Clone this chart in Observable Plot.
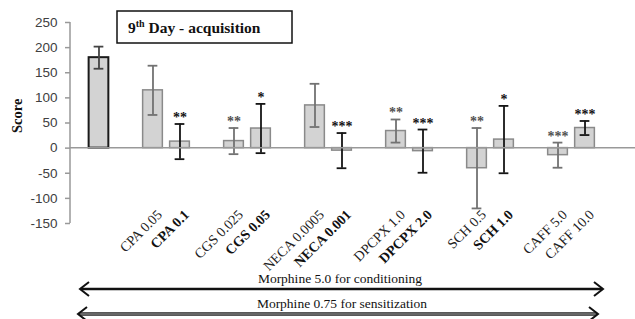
<!DOCTYPE html>
<html>
<head>
<meta charset="utf-8">
<script src="https://cdn.jsdelivr.net/npm/d3@7"></script>
<script src="https://cdn.jsdelivr.net/npm/@observablehq/plot@0.6"></script>
<style>
  html, body { margin: 0; padding: 0; background: #fff; }
  #chart svg { display: block; }
</style>
</head>
<body>
<div id="chart"></div>
<script>
// ---- data ----
const categories = ["Morphine", "CPA 0.05", "CPA 0.1", "CGS 0.025", "CGS 0.05", "NECA 0.0005", "NECA 0.001",
  "DPCPX 1.0", "DPCPX 2.0", "SCH 0.5", "SCH 1.0", "CAFF 5.0", "CAFF 10.0"];
const labels = ["", "CPA 0.05", "CPA 0.1", "CGS 0.025", "CGS 0.05", "NECA 0.0005", "NECA 0.001",
  "DPCPX 1.0", "DPCPX 2.0", "SCH 0.5", "SCH 1.0", "CAFF 5.0", "CAFF 10.0"];
const doses = ["control", "low", "high", "low", "high", "low", "high", "low", "high", "low", "high", "low", "high"];
const scores = [180, 115, 13, 14, 39, 85, -5, 34, -6, -40, 17, -14, 40];
const errors = [22, 49, 35, 26, 49, 43, 35, 23, 43, 80, 67, 25, 14];
const stars = ["", "", "**", "**", "*", "", "***", "**", "***", "**", "*", "***", "***"];
const yTicks = [-150, -100, -50, 0, 50, 100, 150, 200, 250];
const titleMain = "9";
const titleSup = "th";
const titleRest = " Day - acquisition";
const note1 = "Morphine 5.0 for conditioning";
const note2 = "Morphine 0.75 for sensitization";
const yLabel = "Score";

// ---- table ----
const rows = categories.map((c, i) => ({
  cat: c, label: labels[i], dose: doses[i], score: scores[i], err: errors[i], star: stars[i],
  lo: scores[i] - errors[i], hi: scores[i] + errors[i]
}));
// slot domain: control, gap, then each pair followed by a gap
const slots = [];
rows.forEach((r, i) => {
  slots.push(r.cat);
  if (r.dose !== "low") slots.push("gap" + i);
});
slots.pop();

const serif = "Liberation Serif";
const isBoldLabel = d => d.dose === "high" && !d.cat.startsWith("CAFF");
const errColor = d => d.dose === "high" ? "#151515" : d.dose === "control" ? "#444" : "#727272";

const plot = Plot.plot({
  width: 635,
  height: 319,
  marginTop: 22,
  marginBottom: 96,
  marginLeft: 70,
  marginRight: 22,
  style: {background: "white", overflow: "visible"},
  x: {type: "band", domain: slots, paddingInner: 0.27, paddingOuter: 0.69, round: false, axis: null},
  y: {domain: [-150, 250], axis: null},
  marks: [
    Plot.axisY({ticks: yTicks, tickSize: 5, tickPadding: 8, stroke: "#999", strokeWidth: 1.5,
      fill: "#404040", fontSize: 13.5, fontFamily: "Liberation Sans", tickFormat: d => d}),
    Plot.barY(rows.filter(d => d.dose !== "control"), {x: "cat", y: "score", fill: "#d3d3d3", stroke: "#8a8a8a", strokeWidth: 1.5}),
    Plot.barY(rows.filter(d => d.dose === "control"), {x: "cat", y: "score", fill: "#d3d3d3", stroke: "#1a1a1a", strokeWidth: 2}),
    // error bars
    Plot.ruleX(rows, {x: "cat", y1: "lo", y2: "hi", stroke: errColor, strokeWidth: 1.8}),
    Plot.tickY(rows, {x: "cat", y: "lo", insetLeft: 5, insetRight: 5, stroke: errColor, strokeWidth: 1.8}),
    Plot.tickY(rows, {x: "cat", y: "hi", insetLeft: 5, insetRight: 5, stroke: errColor, strokeWidth: 1.8}),
    // significance stars
    Plot.text(rows.filter(d => d.star && d.dose === "low"), {x: "cat", y: "hi", text: "star", lineAnchor: "bottom", dy: -2,
      fontSize: 14, fontWeight: "bold", fontFamily: serif, fill: "#505050"}),
    Plot.text(rows.filter(d => d.star && d.dose === "high"), {x: "cat", y: "hi", text: "star", lineAnchor: "bottom", dy: -2,
      fontSize: 14, fontWeight: "bold", fontFamily: serif, fill: "#111"}),
    // category labels
    Plot.text(rows.filter(d => d.label && !isBoldLabel(d)), {x: "cat", text: "label", frameAnchor: "bottom",
      rotate: -45, textAnchor: "end", lineAnchor: "bottom", dx: 10, dy: -8, fontSize: 14, fontFamily: serif, fill: "#222"}),
    Plot.text(rows.filter(d => d.label && isBoldLabel(d)), {x: "cat", text: "label", frameAnchor: "bottom",
      rotate: -45, textAnchor: "end", lineAnchor: "bottom", dx: 10, dy: -8, fontSize: 14, fontWeight: "bold", fontFamily: serif, fill: "#111"}),
    // y axis title
    Plot.text([yLabel], {text: d => d, frameAnchor: "left", rotate: -90, dx: -53, dy: 10,
      fontSize: 14.5, fontWeight: "bold", fontFamily: serif, fill: "#111"})
  ]
});

document.getElementById("chart").appendChild(plot);

// ---- annotations ----
const svg = d3.select(plot);
const ys = plot.scale("y");
const y0 = ys.apply(0);
const yTop = ys.apply(250), yBot = ys.apply(-150);

// y axis line
svg.append("line").attr("x1", 70).attr("x2", 70).attr("y1", yTop).attr("y2", yBot)
  .attr("stroke", "#999").attr("stroke-width", 1.5);
// zero line
svg.append("line").attr("x1", 70).attr("x2", 635).attr("y1", y0).attr("y2", y0)
  .attr("stroke", "#999").attr("stroke-width", 1.5);

// title box
svg.append("rect").attr("x", 117).attr("y", 11).attr("width", 175).attr("height", 32)
  .attr("fill", "white").attr("stroke", "#111").attr("stroke-width", 1.5);
const t = svg.append("text").attr("x", 128).attr("y", 33).attr("text-anchor", "start")
  .style("font-family", serif).style("font-weight", "bold").style("font-size", "15.5px").attr("fill", "#111");
t.append("tspan").text(titleMain);
t.append("tspan").style("font-size", "10px").attr("dy", -6).text(titleSup);
t.append("tspan").attr("dy", 6).text(titleRest);

// arrows
function arrow(xa, xb, y, double) {
  const g = svg.append("g").attr("fill", "none").attr("stroke-linecap", "butt");
  if (double) {
    g.append("line").attr("x1", xa + 1).attr("x2", xb - 1).attr("y1", y).attr("y2", y).attr("stroke", "#222").attr("stroke-width", 3.5);
    g.append("line").attr("x1", xa + 2).attr("x2", xb - 2).attr("y1", y).attr("y2", y).attr("stroke", "#aaa").attr("stroke-width", 1.2);
  } else {
    g.append("line").attr("x1", xa + 1).attr("x2", xb - 1).attr("y1", y).attr("y2", y).attr("stroke", "#111").attr("stroke-width", 2.6);
  }
  g.append("path").attr("d", `M${xa + 9},${y - 7}L${xa},${y}L${xa + 9},${y + 7}`).attr("stroke", "#111").attr("stroke-width", 2);
  g.append("path").attr("d", `M${xb - 9},${y - 7}L${xb},${y}L${xb - 9},${y + 7}`).attr("stroke", "#111").attr("stroke-width", 2);
}
svg.append("text").attr("x", 340).attr("y", 283).attr("text-anchor", "middle")
  .style("font-family", serif).style("font-size", "13.5px").attr("fill", "#111").text(note1);
arrow(80, 603, 289, false);
svg.append("text").attr("x", 342).attr("y", 308).attr("text-anchor", "middle")
  .style("font-family", serif).style("font-size", "13.5px").attr("fill", "#111").text(note2);
arrow(78, 598, 314, true);
</script>
</body>
</html>
